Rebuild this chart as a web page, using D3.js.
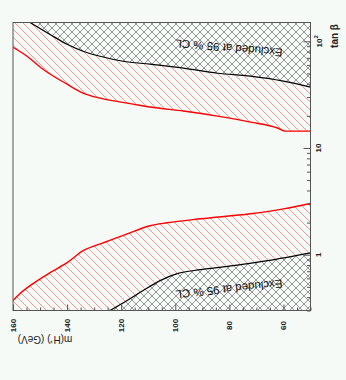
<!DOCTYPE html>
<html><head><meta charset="utf-8">
<script src="https://cdn.jsdelivr.net/npm/d3@7"></script>
<style>html,body{margin:0;padding:0;background:#f6faf7;}svg{display:block;}</style>
</head><body>
<script>
// ---- data (m in GeV, tan beta) ----
const mTicks = [160, 140, 120, 100, 80, 60];
const tanbTicks = [1, 10, 100];
const tanbTickLabels = ["1", "10", "10²"];

const upperBlackM  = [153.7, 146.3, 140, 134.1, 127.8, 119.3, 109.3, 97, 84.4, 72.2, 60, 50];
const upperBlackTb = [150, 116, 93.8, 80.7, 72.4, 65, 61, 56, 50.2, 47.1, 42.3, 37.2];

const upperRedM  = [160, 154.8, 148.9, 140, 134.1, 127.8, 115.6, 109.3, 97, 84.4, 72.2, 62.2, 59.3, 50];
const upperRedTb = [87.9, 72.4, 54.7, 39.6, 32.7, 29.3, 25.8, 24.2, 22.2, 19.9, 17.5, 15.4, 14.4, 14.4];

const lowerRedM  = [160, 157.4, 152.6, 146.3, 140, 134.1, 126.7, 117.8, 109.3, 103, 90.7, 72.2, 60, 50];
const lowerRedTb = [0.372, 0.432, 0.536, 0.679, 0.842, 1.09, 1.29, 1.57, 1.87, 1.99, 2.17, 2.42, 2.69, 3.02];

const lowerBlackM  = [124.1, 117.8, 111.9, 105.6, 99.3, 90.7, 78.5, 65.9, 50];
const lowerBlackTb = [0.3, 0.372, 0.461, 0.572, 0.664, 0.724, 0.789, 0.879, 1.04];

const xLabel = "m(H⁺) (GeV)";
const yLabel = "tan β";
const exclText = "Excluded at 95 % CL";

// ---- layout ----
const W = 346, H = 380;
const L = 13, R = 310.5, T = 22.5, B = 310.5;
const bg = "#f6faf7";

const svg = d3.select("body").append("svg").attr("width", W).attr("height", H)
  .style("font-family", "'Liberation Sans', Arial, sans-serif");
svg.append("rect").attr("width", W).attr("height", H).attr("fill", bg);

const x = d3.scaleLinear().domain([160, 50]).range([L, R]);
const y = d3.scaleLog().domain([0.3, 150]).range([B, T]).clamp(true);

const defs = svg.append("defs");
defs.append("clipPath").attr("id", "plotclip").append("rect")
  .attr("x", L).attr("y", T).attr("width", R - L).attr("height", B - T);
const ph = defs.append("pattern").attr("id", "redhatch").attr("patternUnits", "userSpaceOnUse")
  .attr("width", 8).attr("height", 8);
ph.append("path").attr("d", "M0,0L8,8M-2,6L2,10M6,-2L10,2")
  .attr("stroke", "#ff7070").attr("stroke-width", 0.7).attr("fill", "none");
const pc = defs.append("pattern").attr("id", "crosshatch").attr("patternUnits", "userSpaceOnUse")
  .attr("width", 8).attr("height", 8);
pc.append("path").attr("d", "M0,0L8,8M-2,6L2,10M6,-2L10,2M0,8L8,0M-2,2L2,-2M6,10L10,6")
  .attr("stroke", "#555").attr("stroke-width", 0.6).attr("fill", "none");

const zip = (ms, tbs) => ms.map((m, i) => ({ m, tb: tbs[i] }));
const upperBlack = zip(upperBlackM, upperBlackTb);
const upperRed = zip(upperRedM, upperRedTb);
const lowerRed = zip(lowerRedM, lowerRedTb);
const lowerBlack = zip(lowerBlackM, lowerBlackTb);

const curve = d3.curveMonotoneX;
const line = d3.line().x(d => x(d.m)).y(d => y(d.tb)).curve(curve);
const areaTop = d3.area().x(d => x(d.m)).y0(T).y1(d => y(d.tb)).curve(curve);
const areaBot = d3.area().x(d => x(d.m)).y0(B).y1(d => y(d.tb)).curve(curve);

const g = svg.append("g").attr("clip-path", "url(#plotclip)");
// red hatched bands
g.append("path").attr("d", areaTop(upperRed)).attr("fill", "url(#redhatch)");
g.append("path").attr("d", areaBot(lowerRed)).attr("fill", "url(#redhatch)");
// excluded regions
g.append("path").attr("d", areaTop(upperBlack)).attr("fill", bg);
g.append("path").attr("d", areaTop(upperBlack)).attr("fill", "url(#crosshatch)");
g.append("path").attr("d", areaBot(lowerBlack)).attr("fill", bg);
g.append("path").attr("d", areaBot(lowerBlack)).attr("fill", "url(#crosshatch)");
// boundary lines
g.append("path").attr("d", line(upperRed)).attr("fill", "none").attr("stroke", "#ff0000").attr("stroke-width", 1.4);
g.append("path").attr("d", line(lowerRed)).attr("fill", "none").attr("stroke", "#ff0000").attr("stroke-width", 1.4);
g.append("path").attr("d", line(upperBlack)).attr("fill", "none").attr("stroke", "#000").attr("stroke-width", 1.2);
g.append("path").attr("d", line(lowerBlack)).attr("fill", "none").attr("stroke", "#000").attr("stroke-width", 1.2);

// frame
svg.append("rect").attr("x", L).attr("y", T).attr("width", R - L).attr("height", B - T)
  .attr("fill", "none").attr("stroke", "#555").attr("stroke-width", 1);

// right axis (ticks inside)
const minorTb = [];
[0.1, 1, 10].forEach(d => { for (let k = 2; k <= 9; k++) { const v = d * k; if (v >= 0.3) minorTb.push(+v.toFixed(3)); } });
const styleAxis = sel => { sel.select(".domain").remove(); sel.selectAll("line").attr("stroke", "#555"); sel.selectAll("text").remove(); };
svg.append("g").attr("transform", `translate(${R},0)`)
  .call(d3.axisLeft(y).tickValues(tanbTicks).tickSize(7).tickFormat(() => "")).call(styleAxis);
svg.append("g").attr("transform", `translate(${R},0)`)
  .call(d3.axisLeft(y).tickValues(minorTb).tickSize(3.5).tickFormat(() => "")).call(styleAxis);

// bottom axis (ticks inside)
const minorM = d3.range(50, 161, 5).filter(v => !mTicks.includes(v));
svg.append("g").attr("transform", `translate(0,${B})`)
  .call(d3.axisTop(x).tickValues(mTicks).tickSize(6).tickFormat(() => "")).call(styleAxis);
svg.append("g").attr("transform", `translate(0,${B})`)
  .call(d3.axisTop(x).tickValues(minorM).tickSize(3).tickFormat(() => "")).call(styleAxis);

// tick labels (rotated)
svg.append("g").selectAll("text").data(mTicks).join("text")
  .attr("transform", d => `translate(${x(d)},${B + 15}) rotate(-90)`)
  .attr("text-anchor", "middle").attr("dominant-baseline", "central")
  .attr("font-size", 8).attr("font-weight", "bold").attr("fill", "#222").text(d => d);

tanbTicks.forEach((v, i) => {
  const t = svg.append("text")
    .attr("transform", `translate(${R + 8},${y(v)}) rotate(-90)`)
    .attr("text-anchor", "middle").attr("dominant-baseline", "central")
    .attr("font-size", 8).attr("font-weight", "bold").attr("fill", "#222");
  const lab = tanbTickLabels[i];
  if (lab.endsWith("²")) {
    t.append("tspan").text("10");
    t.append("tspan").attr("dy", -3).attr("font-size", 6).text("2");
  } else t.text(lab);
});

// axis titles
svg.append("text").attr("transform", `translate(334,36) rotate(-90)`)
  .attr("text-anchor", "middle").attr("dominant-baseline", "central")
  .attr("font-size", 10).attr("font-weight", "bold").attr("fill", "#222").text(yLabel);
svg.append("text").attr("transform", `translate(45,339) rotate(180)`)
  .attr("text-anchor", "middle").attr("dominant-baseline", "central")
  .attr("font-size", 10).attr("fill", "#222").text(xLabel);

// region labels
svg.append("text").attr("transform", `translate(229,48) rotate(185)`)
  .attr("text-anchor", "middle").attr("dominant-baseline", "central")
  .attr("font-size", 11.5).attr("fill", "#111").text(exclText);
svg.append("text").attr("transform", `translate(229,289) rotate(174)`)
  .attr("text-anchor", "middle").attr("dominant-baseline", "central")
  .attr("font-size", 11.5).attr("fill", "#111").text(exclText);
</script>
</body></html>
